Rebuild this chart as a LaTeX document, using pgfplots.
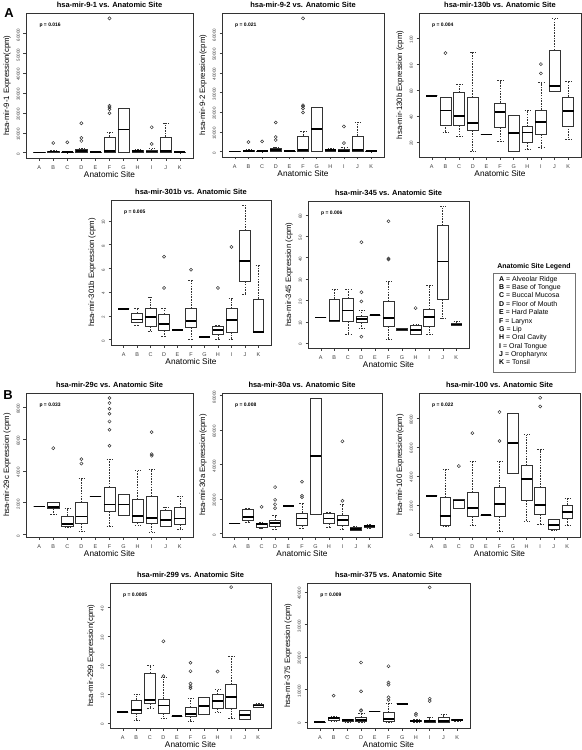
\documentclass[border=0pt]{standalone}
\usepackage{fontspec}
\setmainfont{Liberation Sans}
\usepackage{pgfplots}
\pgfplotsset{compat=1.18}
\usepgfplotslibrary{statistics}
\pgfplotsset{
  rbox/.style={
    scale only axis, clip=false,
    xmin=0.06, xmax=11.94,
    xtick={1,2,3,4,5,6,7,8,9,10,11}, xticklabels={A,B,C,D,E,F,G,H,I,J,K},
    tick align=outside, tick pos=left, major tick length=2.5bp,
    tick style={black!75, line width=0.4bp},
    axis line style={black!80, line width=0.6bp},
    xticklabel style={font=\fontsize{5.5}{6}\selectfont, text=black!75, yshift=-1.5bp},
    yticklabel style={font=\fontsize{4.5}{5}\selectfont, text=black!75, rotate=90, anchor=south, xshift=-1.5bp},
    /pgf/number format/assume math mode=true,
    /pgf/number format/fixed, /pgf/number format/1000 sep={},
    scaled y ticks=false,
    every axis title/.style={at={(0.5,1)}, anchor=base, yshift=5.5bp, font=\bfseries\fontsize{7.5}{8}\selectfont},
    xlabel={Anatomic Site},
    every axis x label/.style={at={(0.5,0)}, anchor=center, yshift=-16.5bp, font=\fontsize{8.3}{9}\selectfont},
    every axis y label/.style={at={(0,0.5)}, rotate=90, anchor=center, yshift=19bp, font=\fontsize{7.8}{9}\selectfont},
    anchor=north west,
    boxplot/draw direction=y,
    boxplot/box extend=0.8,
    boxplot/whisker extend=0.4,
    boxplot/every median/.style={line width=1.7bp, black, solid},
    boxplot/every whisker/.style={dash pattern=on 1.6bp off 1.1bp},
    boxplot/every box/.style={solid},
    every axis plot/.append style={black!80, line width=0.55bp, mark=o, mark size=1.55bp, mark options={solid, line width=0.5bp}},
  }
}
\newcommand{\bx}[7]{\addplot[boxplot prepared={draw position=#1, lower whisker=#2, lower quartile=#3, median=#4, upper quartile=#5, upper whisker=#6}] coordinates {#7};}
\newcommand{\pval}[1]{\node[anchor=west, font=\bfseries\fontsize{5}{6}\selectfont] at (axis description cs:0.06,0.915) {#1};}
\begin{document}
\begin{tikzpicture}
\useasboundingbox (0,0) rectangle (582bp,-750bp);
\node[font=\bfseries\fontsize{13}{14}\selectfont] at (9bp,-13bp) {A};
\node[font=\bfseries\fontsize{13}{14}\selectfont] at (8bp,-395bp) {B};
% P1 mir-9-1
\begin{axis}[rbox, at={(26bp,-13bp)}, width=167bp, height=145bp,
  ymin=-2700, ymax=70270, ytick={0,10000,20000,30000,40000,50000,60000},
  title={hsa-mir-9-1 vs. Anatomic Site}, ylabel={hsa-mir-9-1 Expression(cpm)}]
\bx{1}{0}{0}{30}{100}{150}{}
\bx{2}{0}{170}{500}{840}{1200}{(0,4870)}
\bx{3}{0}{20}{170}{340}{600}{(0,5210)}
\bx{4}{0}{170}{670}{1510}{2350}{(0,5880) (0,7400) (0,14790)}
\bx{5}{100}{150}{170}{200}{250}{}
\bx{6}{0}{340}{1000}{7900}{10420}{(0,19830) (0,21850) (0,22860) (0,23530) (0,67560)}
\bx{7}{0}{0}{11600}{22520}{22520}{}
\bx{8}{0}{340}{670}{1340}{1850}{}
\bx{9}{0}{170}{500}{1180}{2020}{(0,4370) (0,12770)}
\bx{10}{0}{0}{670}{7900}{14960}{}
\bx{11}{0}{50}{170}{250}{350}{}
\pval{p = 0.016}
\end{axis}
% P2 mir-9-2
\begin{axis}[rbox, at={(222bp,-13bp)}, width=162bp, height=144bp,
  ymin=-2700, ymax=70270, ytick={0,10000,20000,30000,40000,50000,60000},
  title={hsa-mir-9-2 vs. Anatomic Site}, ylabel={hsa-mir-9-2 Expression(cpm)}]
\bx{1}{0}{0}{30}{100}{150}{}
\bx{2}{0}{170}{500}{840}{1200}{(0,4870)}
\bx{3}{0}{20}{170}{340}{600}{(0,5210)}
\bx{4}{0}{170}{670}{1510}{2350}{(0,5880) (0,7400) (0,14790)}
\bx{5}{100}{150}{170}{200}{250}{}
\bx{6}{0}{340}{1000}{7900}{10420}{(0,19830) (0,21850) (0,22860) (0,23530) (0,67560)}
\bx{7}{0}{0}{11600}{22520}{22520}{}
\bx{8}{0}{340}{670}{1340}{1850}{}
\bx{9}{0}{170}{500}{1180}{2020}{(0,4370) (0,12770)}
\bx{10}{0}{0}{670}{7900}{14960}{}
\bx{11}{0}{50}{170}{250}{350}{}
\pval{p = 0.021}
\end{axis}
% P3 mir-130b
\begin{axis}[rbox, at={(419bp,-13bp)}, width=162bp, height=144bp,
  ymin=8.2, ymax=119.5, ytick={20,40,60,80,100},
  title={hsa-mir-130b vs. Anatomic Site}, ylabel={hsa-mir-130b Expression (cpm)}]
\bx{1}{55.6}{55.6}{55.6}{55.6}{55.6}{}
\bx{2}{27.2}{33.1}{44.1}{54.6}{54.6}{(0,88.5)}
\bx{3}{24.1}{32.6}{39.7}{58}{64.6}{}
\bx{4}{12.3}{28.7}{34.6}{54.4}{89}{}
\bx{5}{25.6}{25.6}{25.6}{25.6}{25.6}{}
\bx{6}{20.5}{30.8}{42.8}{50}{67.2}{}
\bx{7}{12.6}{12.6}{26.9}{40.8}{40.8}{}
\bx{8}{14.4}{19.2}{27.2}{32}{44.1}{}
\bx{9}{15.4}{25.9}{35.4}{44.6}{65.6}{(0,72.8) (0,80)}
\bx{10}{58.7}{58.7}{63.3}{90.8}{115.4}{}
\bx{11}{21.8}{32.3}{43.6}{54.6}{66.4}{}
\pval{p = 0.004}
\end{axis}
% P4 mir-301b
\begin{axis}[rbox, at={(111bp,-200bp)}, width=160bp, height=145bp,
  ymin=-0.45, ymax=11.75, ytick={0,2,4,6,8,10},
  title={hsa-mir-301b vs. Anatomic Site}, ylabel={hsa-mir-301b Expression (cpm)}]
\bx{1}{2.6}{2.6}{2.6}{2.6}{2.6}{}
\bx{2}{1.24}{1.5}{1.7}{2.23}{2.6}{}
\bx{3}{0.73}{1.1}{1.92}{2.6}{3.56}{}
\bx{4}{0.28}{0.76}{1.33}{2.15}{2.6}{(0,4.35) (0,6.98)}
\bx{5}{0.82}{0.82}{0.82}{0.82}{0.82}{}
\bx{6}{0}{1.0}{1.58}{2.6}{5.0}{(0,5.88)}
\bx{7}{0.2}{0.2}{0.2}{0.2}{0.2}{}
\bx{8}{0}{0.45}{0.79}{1.1}{1.2}{(0,4.35)}
\bx{9}{0}{0.65}{1.67}{2.6}{3.45}{(0,7.8)}
\bx{10}{3.81}{4.92}{6.61}{9.18}{11.3}{}
\bx{11}{0.62}{0.62}{0.62}{3.42}{6.24}{}
\pval{p = 0.005}
\end{axis}
% P5 mir-345
\begin{axis}[rbox, at={(308bp,-201bp)}, width=161bp, height=147bp,
  ymin=-2.3, ymax=66.5, ytick={0,10,20,30,40,50,60},
  title={hsa-mir-345 vs. Anatomic Site}, ylabel={hsa-mir-345 Expression (cpm)}]
\bx{1}{12}{12}{12}{12}{12}{}
\bx{2}{10.1}{10.1}{10.6}{20.6}{25.1}{}
\bx{3}{4.2}{10.1}{15.3}{21}{25.1}{}
\bx{4}{7.0}{9.7}{11.4}{12.6}{15.3}{(0,3.0) (0,19.5) (0,23.8) (0,47.2)}
\bx{5}{13.2}{13.2}{13.2}{13.2}{13.2}{}
\bx{6}{2.0}{7.9}{11.7}{19.6}{28.8}{(0,39.1) (0,39.6) (0,57)}
\bx{7}{5.8}{5.8}{6.4}{6.9}{6.9}{}
\bx{8}{3.9}{4.2}{6.1}{8.3}{8.6}{(0,16.4)}
\bx{9}{4.2}{7.8}{12.1}{15.9}{26.9}{}
\bx{10}{11.4}{20.4}{38.2}{55.1}{63.9}{}
\bx{11}{8.3}{8.3}{8.7}{9.2}{10.1}{}
\pval{p = 0.006}
\end{axis}
% Legend
\node[font=\bfseries\fontsize{7}{8}\selectfont] at (534bp,-267bp) {Anatomic Site Legend};
\node[draw=black!55, line width=0.4bp, anchor=north west, inner sep=0pt, minimum width=82bp, minimum height=99bp] (lg) at (493bp,-273bp) {};
\node[anchor=north west, align=left, inner sep=0pt, font=\fontsize{7}{8.4}\selectfont] at (499bp,-276bp) {\textbf{A} = Alveolar Ridge\\ \textbf{B} = Base of Tongue\\ \textbf{C} = Buccal Mucosa\\ \textbf{D} = Floor of Mouth\\ \textbf{E} = Hard Palate\\ \textbf{F} = Larynx\\ \textbf{G} = Lip\\ \textbf{H} = Oral Cavity\\ \textbf{I} = Oral Tongue\\ \textbf{J} = Oropharynx\\ \textbf{K} = Tonsil};
% P6 mir-29c
\begin{axis}[rbox, at={(26bp,-393bp)}, width=167bp, height=144bp,
  ymin=-170, ymax=8905, ytick={0,2000,4000,6000,8000},
  title={hsa-mir-29c vs. Anatomic Site}, ylabel={hsa-mir-29c Expression (cpm)}]
\bx{1}{1750}{1750}{1750}{1750}{1750}{}
\bx{2}{1260}{1640}{1700}{2000}{2000}{(0,5430)}
\bx{3}{440}{480}{630}{1160}{1640}{}
\bx{4}{210}{695}{1115}{2000}{3540}{(0,4460) (0,4740)}
\bx{5}{2380}{2380}{2380}{2380}{2380}{}
\bx{6}{530}{1430}{1870}{2970}{4740}{(0,5580) (0,6590) (0,7115) (0,7600) (0,7915) (0,8270) (0,8590)}
\bx{7}{1220}{1220}{1870}{2525}{2525}{}
\bx{8}{590}{760}{1160}{2210}{4060}{}
\bx{9}{150}{695}{1010}{2400}{4125}{(0,4950) (0,5050) (0,6440)}
\bx{10}{480}{480}{905}{1515}{1700}{}
\bx{11}{315}{630}{990}{1700}{2380}{}
\pval{p = 0.033}
\end{axis}
% P7 mir-30a
\begin{axis}[rbox, at={(222bp,-393bp)}, width=160bp, height=144bp,
  ymin=-2140, ymax=81550, ytick={0,20000,40000,60000,80000},
  title={hsa-mir-30a vs. Anatomic Site}, ylabel={hsa-mir-30a Expression(cpm)}]
\bx{1}{5640}{5640}{5640}{5640}{5640}{}
\bx{2}{6600}{7600}{9540}{13800}{14800}{}
\bx{3}{3100}{3300}{5250}{5840}{6200}{(0,15400)}
\bx{4}{2140}{4280}{6030}{7600}{10300}{(0,14600) (0,16900) (0,19460) (0,26850)}
\bx{5}{15760}{15760}{15760}{15760}{15760}{}
\bx{6}{2720}{4670}{8560}{11870}{17300}{(0,21000) (0,21800) (0,30000)}
\bx{7}{11100}{11100}{45000}{78600}{78600}{}
\bx{8}{3700}{5640}{8560}{11870}{12260}{}
\bx{9}{2340}{4670}{7780}{10700}{16700}{(0,18900) (0,53500)}
\bx{10}{1560}{1950}{2530}{3500}{4090}{}
\bx{11}{2920}{3300}{4090}{4670}{5250}{}
\pval{p = 0.008}
\end{axis}
% P8 mir-100
\begin{axis}[rbox, at={(419bp,-393bp)}, width=161bp, height=144bp,
  ymin=-230, ymax=9730, ytick={0,2000,4000,6000,8000},
  title={hsa-mir-100 vs. Anatomic Site}, ylabel={hsa-mir-100 Expression(cpm)}]
\bx{1}{2630}{2630}{2630}{2630}{2630}{}
\bx{2}{510}{550}{1200}{2490}{4430}{}
\bx{3}{1730}{1730}{2300}{2350}{2350}{(0,4680)}
\bx{4}{550}{1200}{1800}{2835}{4980}{(0,6960)}
\bx{5}{1270}{1270}{1270}{1270}{1270}{}
\bx{6}{140}{1200}{2030}{3230}{5020}{(0,6410) (0,8410)}
\bx{7}{4150}{4150}{6290}{8340}{8340}{}
\bx{8}{850}{2300}{3780}{4730}{6850}{}
\bx{9}{620}{1310}{2000}{3180}{5810}{(0,8800) (0,9400)}
\bx{10}{230}{300}{620}{1010}{1010}{}
\bx{11}{580}{1040}{1520}{1980}{2470}{}
\pval{p = 0.022}
\end{axis}
% P9 mir-299
\begin{axis}[rbox, at={(110bp,-583bp)}, width=161bp, height=145bp,
  ymin=-1.7, ymax=48.3, ytick={0,10,20,30,40},
  title={hsa-mir-299 vs. Anatomic Site}, ylabel={hsa-mir-299 Expression(cpm)}]
\bx{1}{3.7}{3.7}{3.7}{3.7}{3.7}{}
\bx{2}{1.0}{3.45}{4.4}{8.0}{10}{}
\bx{3}{5.1}{6.7}{8.0}{17.2}{20.1}{}
\bx{4}{1.8}{3.45}{6.1}{8.3}{15.8}{(0,16.2) (0,28.2)}
\bx{5}{2.4}{2.4}{2.4}{2.4}{2.4}{}
\bx{6}{0.7}{2.3}{3.2}{5.5}{8.7}{(0,12.0) (0,12.6) (0,13.6) (0,17.9) (0,20.8)}
\bx{7}{2.9}{2.9}{6.0}{8.85}{8.85}{}
\bx{8}{3.7}{5.1}{7.6}{9.8}{11.6}{(0,17.8)}
\bx{9}{1.5}{5.2}{9.0}{13.4}{23}{(0,46.9)}
\bx{10}{1.4}{1.4}{2.8}{4.25}{4.5}{}
\bx{11}{5.4}{5.5}{6.1}{6.4}{6.7}{}
\pval{p = 0.0005}
\end{axis}
% P10 mir-375
\begin{axis}[rbox, at={(307bp,-583bp)}, width=163bp, height=145bp,
  ymin=-1800, ymax=42800, ytick={0,10000,20000,30000,40000},
  title={hsa-mir-375 vs. Anatomic Site}, ylabel={hsa-mir-375 Expression (cpm)}]
\bx{1}{0}{0}{50}{100}{150}{}
\bx{2}{410}{620}{1240}{1650}{1750}{(0,8150)}
\bx{3}{100}{200}{620}{1030}{1030}{}
\bx{4}{0}{310}{620}{1440}{2680}{(0,3500) (0,3700) (0,9480) (0,18350)}
\bx{5}{3300}{3300}{3300}{3300}{3300}{}
\bx{6}{0}{310}{1030}{2890}{5880}{(0,6800) (0,7630) (0,11550) (0,12170) (0,17220)}
\bx{7}{5670}{5670}{5670}{5670}{5670}{}
\bx{8}{0}{200}{410}{620}{1030}{(0,2160) (0,2580)}
\bx{9}{0}{100}{410}{720}{1650}{(0,6500) (0,7200) (0,41450)}
\bx{10}{0}{100}{310}{1650}{2470}{}
\bx{11}{410}{520}{720}{930}{1030}{}
\pval{p = 0.009}
\end{axis}
\end{tikzpicture}
\end{document}
